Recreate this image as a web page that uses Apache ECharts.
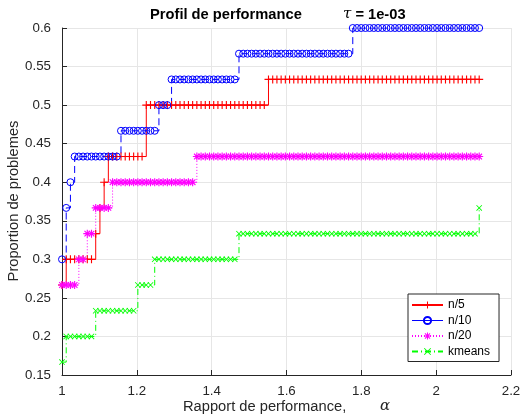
<!DOCTYPE html>
<html>
<head>
<meta charset="utf-8">
<script src="https://cdn.jsdelivr.net/npm/echarts@6/dist/echarts.min.js"></script>
<style>
html,body{margin:0;padding:0;background:#fff;}
#main{width:520px;height:416px;}
</style>
</head>
<body>
<div id="main"></div>
<script>
// grille des rapports de performance alpha (100 points de 1 a 2.115)
var nAlpha = 100;
var alphaMin = 1, alphaMax = 2.115;
// paliers : [proportion, nombre de points de la grille]
var n5Runs = [[0.2667,1],[0.3,7],[0.3333,1],[0.3667,1],[0.4,1],[0.4333,9],[0.5,29],[0.5333,51]];
var n10Runs = [[0.3,1],[0.3667,1],[0.4,1],[0.4333,11],[0.4667,9],[0.5,3],[0.5333,16],[0.5667,27],[0.6,31]];
var n20Runs = [[0.2667,4],[0.3,2],[0.3333,2],[0.3667,4],[0.4,20],[0.4333,68]];
var kmeansRuns = [[0.1667,1],[0.2,7],[0.2333,10],[0.2667,4],[0.3,20],[0.3333,57],[0.3667,1]];
var names = ['n/5','n/10','n/20','kmeans'];
var xTicks = [1,1.2,1.4,1.6,1.8,2,2.2];
var yTicks = [0.15,0.2,0.25,0.3,0.35,0.4,0.45,0.5,0.55,0.6];

var FONT = '"Liberation Sans", Arial, Helvetica, sans-serif';
var AX = '#262626';

function expand(runs){
  var out=[], k=0;
  for(var i=0;i<runs.length;i++){
    for(var j=0;j<runs[i][1];j++){
      var a = alphaMin + k*(alphaMax-alphaMin)/(nAlpha-1);
      out.push([a, runs[i][0]]);
      k++;
    }
  }
  return out;
}

// marqueurs facon matlab : +, x, *
var plusPath = 'path://M0,4.3H10V5.7H0Z M4.3,0H5.7V10H4.3Z';
var crossPath = 'path://M0,1L1,0L10,9L9,10Z M9,0L10,1L1,10L0,9Z';
var starPath = 'path://M0,4.3H10V5.7H0Z M4.3,0H5.7V10H4.3Z M1,2L2,1L9,8L8,9Z M8,1L9,2L2,9L1,8Z';

function mkSerie(name, runs, color, sym, size, dash, itemStyle){
  return {
    name:name, type:'line', step:'end', data:expand(runs),
    symbol:sym, symbolSize:size, showAllSymbol:true,
    lineStyle:{color:color, width:1, type:dash},
    itemStyle:itemStyle || {color:color},
    emphasis:{disabled:true}, animation:false
  };
}

var myChart = echarts.init(document.getElementById('main'));
var option = {
  backgroundColor:'#fff',
  animation:false,
  grid:{left:62, right:9, top:28, bottom:41, outerBoundsMode:'none'},
  xAxis:{
    type:'value', min:1, max:2.2, interval:0.2,
    axisLine:{lineStyle:{color:AX, width:1}},
    axisTick:{inside:true, length:5, lineStyle:{color:AX}},
    splitLine:{show:true, lineStyle:{color:'#e6e6e6', width:1}},
    axisLabel:{color:AX, fontSize:13.3, fontFamily:FONT, margin:10,
      formatter:function(v){ return xTicks.indexOf(+v.toFixed(1))>=0 ? String(+v.toFixed(1)) : ''; }}
  },
  yAxis:{
    type:'value', min:0.15, max:0.6, interval:0.05,
    axisLine:{show:true, lineStyle:{color:AX, width:1}},
    axisTick:{show:true, inside:true, length:5, lineStyle:{color:AX}},
    splitLine:{show:true, lineStyle:{color:'#e6e6e6', width:1}},
    axisLabel:{color:AX, fontSize:13.3, fontFamily:FONT, margin:11,
      formatter:function(v){ return String(+v.toFixed(2)); }}
  },
  legend:{
    orient:'vertical', left:408, top:294, width:90,
    itemWidth:31, itemHeight:9, itemGap:3.5,
    padding:[5,9,4,3],
    backgroundColor:'#fff', borderColor:AX, borderWidth:1,
    textStyle:{fontSize:12, fontFamily:FONT, color:'#000'},
    data:[names[0], {name:names[1], lineStyle:{type:'solid', width:1}}, names[2], names[3]]
  },
  graphic:[
    {type:'text', left:150, top:7, style:{text:'Profil de performance', font:'bold 14.7px '+FONT, fill:'#000'}},
    {type:'text', left:343, top:7, style:{
      text:'{t|τ}{b| = 1e-03}',
      rich:{t:{font:'italic 15px "DejaVu Serif", serif', fill:'#000'}, b:{font:'bold 14.7px '+FONT, fill:'#000'}}
    }},
    {type:'text', left:183, top:399, style:{text:'Rapport de performance,', font:'14.7px '+FONT, fill:AX}},
    {type:'text', left:380, top:399, style:{text:'α', font:'italic 15px "DejaVu Serif", serif', fill:AX}},
    {type:'text', x:14, y:201, rotation:Math.PI/2, style:{text:'Proportion de problemes', font:'14.7px '+FONT, fill:AX, align:'center', verticalAlign:'middle'}}
  ],
  series:[
    mkSerie(names[0], n5Runs, '#ff0000', plusPath, 8, 'solid'),
    mkSerie(names[1], n10Runs, '#0000ff', 'circle', 7, [7,4], {color:'rgba(0,0,0,0)', borderColor:'#0000ff', borderWidth:1}),
    mkSerie(names[2], n20Runs, '#ff00ff', starPath, 8, [1,2]),
    mkSerie(names[3], kmeansRuns, '#00ff00', crossPath, 6, [6,3,1,3])
  ]
};
myChart.setOption(option);
</script>
</body>
</html>
